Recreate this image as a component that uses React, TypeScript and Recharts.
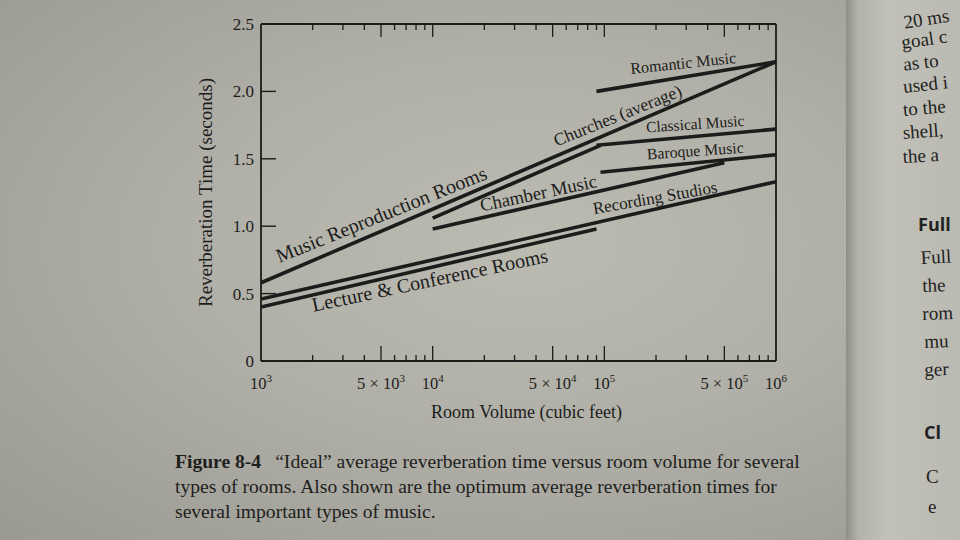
import React from 'react';
import { LineChart, Line, XAxis, YAxis, ReferenceDot, Label } from 'recharts';

// room types (volume in cubic feet, reverberation time in seconds)
const musicReproductionRooms = [{ volume: 1e3, time: 0.58 }, { volume: 1e6, time: 2.22 }];
const churchesAverage = [{ volume: 1e4, time: 1.06 }, { volume: 9.5e4, time: 1.6 }];
const recordingStudios = [{ volume: 1e3, time: 0.46 }, { volume: 1e6, time: 1.33 }];
const lectureRooms = [{ volume: 1e3, time: 0.4 }, { volume: 9e4, time: 0.98 }];

// types of music
const romanticMusic = [{ volume: 9e4, time: 2.0 }, { volume: 1e6, time: 2.22 }];
const classicalMusic = [{ volume: 9e4, time: 1.6 }, { volume: 1e6, time: 1.72 }];
const baroqueMusic = [{ volume: 9.5e4, time: 1.4 }, { volume: 1e6, time: 1.53 }];
const chamberMusic = [{ volume: 1e4, time: 0.98 }, { volume: 5e5, time: 1.47 }];

const series = [
  { name: 'Music Reproduction Rooms', data: musicReproductionRooms },
  { name: 'Churches (average)', data: churchesAverage },
  { name: 'Recording Studios', data: recordingStudios },
  { name: 'Lecture & Conference Rooms', data: lectureRooms },
  { name: 'Romantic Music', data: romanticMusic },
  { name: 'Classical Music', data: classicalMusic },
  { name: 'Baroque Music', data: baroqueMusic },
  { name: 'Chamber Music', data: chamberMusic },
];

// where each curve's name is written, and its slant
const lineLabels = [
  { text: 'Music Reproduction Rooms', volume: 5.2e3, time: 1.04, angle: -22, size: 20 },
  { text: 'Churches (average)', volume: 1.23e5, time: 1.78, angle: -22, size: 17.5 },
  { text: 'Romantic Music', volume: 2.9e5, time: 2.17, angle: -6, size: 16 },
  { text: 'Classical Music', volume: 3.4e5, time: 1.72, angle: -4, size: 15.5 },
  { text: 'Baroque Music', volume: 3.4e5, time: 1.52, angle: -4, size: 15.8 },
  { text: 'Chamber Music', volume: 4.2e4, time: 1.2, angle: -12, size: 18.5 },
  { text: 'Recording Studios', volume: 2.0e5, time: 1.17, angle: -10, size: 17 },
  { text: 'Lecture & Conference Rooms', volume: 9.8e3, time: 0.55, angle: -12, size: 20 },
];

const xTicks = [
  1e3, 2e3, 3e3, 4e3, 5e3, 6e3, 7e3, 8e3, 9e3,
  1e4, 2e4, 3e4, 4e4, 5e4, 6e4, 7e4, 8e4, 9e4,
  1e5, 2e5, 3e5, 4e5, 5e5, 6e5, 7e5, 8e5, 9e5, 1e6,
];
const xMajor = [1e3, 5e3, 1e4, 5e4, 1e5, 5e5, 1e6];
const xMajorLabels = [
  { base: '10', exp: '3' },
  { base: '5 × 10', exp: '3' },
  { base: '10', exp: '4' },
  { base: '5 × 10', exp: '4' },
  { base: '10', exp: '5' },
  { base: '5 × 10', exp: '5' },
  { base: '10', exp: '6' },
];

const yTicks = [0, 0.5, 1.0, 1.5, 2.0, 2.5];
const yTickLabels = ['0', '0.5', '1.0', '1.5', '2.0', '2.5'];
const rightTicks = [0.5, 1.0, 1.5, 2.0];

const ink = '#1c1c1a';
const serif = '"Liberation Serif", "DejaVu Serif", serif';

const BottomTick = (props: any) => {
  const { x, y, payload } = props;
  const i = xMajor.indexOf(payload.value);
  const edge = payload.value === 1e3 || payload.value === 1e6;
  const lbl = i >= 0 ? xMajorLabels[i] : null;
  return (
    <g>
      {!edge && (
        <line x1={x} x2={x} y1={y} y2={y - (i >= 0 ? 15 : 6)} stroke={ink} strokeWidth={1.3} />
      )}
      {lbl && (
        <text x={x} y={y + 28} textAnchor="middle" fontFamily={serif} fontSize={16.5} fill={ink}>
          {lbl.base}
          <tspan dy={-7} fontSize={11}>{lbl.exp}</tspan>
        </text>
      )}
    </g>
  );
};

const TopTick = (props: any) => {
  const { x, y, payload } = props;
  const major = xMajor.indexOf(payload.value) >= 0;
  if (payload.value === 1e3 || payload.value === 1e6) return <g />;
  return <line x1={x} x2={x} y1={y} y2={y + (major ? 13 : 6)} stroke={ink} strokeWidth={1.3} />;
};

const LeftTick = (props: any) => {
  const { x, y, payload } = props;
  const i = yTicks.indexOf(payload.value);
  const inner = payload.value > 0 && payload.value < 2.5;
  return (
    <g>
      {inner && <line x1={x} x2={x + 15} y1={y} y2={y} stroke={ink} strokeWidth={1.4} />}
      <text x={x - 7} y={y} dy="0.35em" textAnchor="end" fontFamily={serif} fontSize={17} fill={ink}>
        {yTickLabels[i]}
      </text>
    </g>
  );
};

const RightTick = (props: any) => {
  const { x, y } = props;
  return <line x1={x} x2={x - 8} y1={y} y2={y} stroke={ink} strokeWidth={1.3} />;
};

const nextPage = [
  { t: '20 ms', x: 902, y: 12, r: -9 },
  { t: 'goal c', x: 900, y: 32, r: -8 },
  { t: 'as to', x: 902, y: 54, r: -7 },
  { t: 'used i', x: 902, y: 76, r: -6 },
  { t: 'to the', x: 902, y: 99, r: -5 },
  { t: 'shell,', x: 902, y: 122, r: -4 },
  { t: 'the a', x: 902, y: 146, r: -3 },
  { t: 'Full', x: 920, y: 247, r: -3 },
  { t: 'the', x: 922, y: 275, r: -2 },
  { t: 'rom', x: 922, y: 303, r: -2 },
  { t: 'mu', x: 924, y: 331, r: -2 },
  { t: 'ger', x: 924, y: 359, r: -2 },
  { t: 'C', x: 926, y: 466, r: 0 },
  { t: 'e', x: 928, y: 496, r: 0 },
];

export default function App() {
  return (
    <div
      style={{
        position: 'absolute',
        left: 0,
        top: 0,
        width: 960,
        height: 540,
        overflow: 'hidden',
        background:
          'radial-gradient(ellipse at 55% 45%, #bcbbb2 0%, #b1b0a8 45%, #9a9992 100%)',
      }}
    >
      <LineChart width={960} height={540} margin={{ top: 20, right: 180, bottom: 149, left: 201 }}>
        <XAxis
          xAxisId="bottom"
          dataKey="volume"
          type="number"
          scale="log"
          domain={[1e3, 1e6]}
          allowDataOverflow
          ticks={xTicks}
          interval={0}
          tick={<BottomTick />}
          tickLine={false}
          tickSize={0}
          tickMargin={0}
          height={30}
          axisLine={{ stroke: ink, strokeWidth: 1.8 }}
        >
          <Label
            content={(p: any) => (
              <text
                x={p.viewBox.x + p.viewBox.width / 2 + 8}
                y={p.viewBox.y + 57}
                textAnchor="middle"
                fontFamily={serif}
                fontSize={18}
                fill={ink}
              >
                Room Volume (cubic feet)
              </text>
            )}
          />
        </XAxis>
        <XAxis
          xAxisId="top"
          orientation="top"
          dataKey="volume"
          type="number"
          scale="log"
          domain={[1e3, 1e6]}
          allowDataOverflow
          ticks={xTicks}
          interval={0}
          tick={<TopTick />}
          tickLine={false}
          tickSize={0}
          tickMargin={0}
          height={4}
          axisLine={{ stroke: ink, strokeWidth: 1.8 }}
        />
        <YAxis
          yAxisId="left"
          type="number"
          domain={[0, 2.5]}
          ticks={yTicks}
          interval={0}
          tick={<LeftTick />}
          tickLine={false}
          tickSize={0}
          tickMargin={0}
          width={60}
          axisLine={{ stroke: ink, strokeWidth: 1.8 }}
        >
          <Label
            content={(p: any) => {
              const cx = p.viewBox.x + 11;
              const cy = p.viewBox.y + p.viewBox.height / 2;
              return (
                <text
                  x={cx}
                  y={cy}
                  transform={`rotate(-90 ${cx} ${cy})`}
                  textAnchor="middle"
                  fontFamily={serif}
                  fontSize={19}
                  fill={ink}
                >
                  Reverberation Time (seconds)
                </text>
              );
            }}
          />
        </YAxis>
        <YAxis
          yAxisId="right"
          orientation="right"
          type="number"
          domain={[0, 2.5]}
          ticks={rightTicks}
          interval={0}
          tick={<RightTick />}
          tickLine={false}
          tickSize={0}
          tickMargin={0}
          width={4}
          axisLine={{ stroke: ink, strokeWidth: 1.8 }}
        />
        {series.map((s) => (
          <Line
            key={s.name}
            name={s.name}
            data={s.data}
            dataKey="time"
            xAxisId="bottom"
            yAxisId="left"
            type="linear"
            stroke={ink}
            strokeWidth={3.6}
            dot={false}
            activeDot={false}
            isAnimationActive={false}
          />
        ))}
        {lineLabels.map((l) => (
          <ReferenceDot
            key={l.text}
            xAxisId="bottom"
            yAxisId="left"
            x={l.volume}
            y={l.time}
            r={0}
            ifOverflow="visible"
            shape={(p: any) => (
              <text
                x={p.cx}
                y={p.cy}
                transform={`rotate(${l.angle} ${p.cx} ${p.cy})`}
                textAnchor="middle"
                fontFamily={serif}
                fontSize={l.size}
                fill={ink}
              >
                {l.text}
              </text>
            )}
          />
        ))}
      </LineChart>

      <div
        style={{
          position: 'absolute',
          left: 175,
          top: 449,
          width: 660,
          fontFamily: serif,
          fontSize: 19.6,
          lineHeight: '25px',
          color: '#1e1e1c',
          whiteSpace: 'nowrap',
        }}
      >
        <div>
          <b>Figure 8-4</b>
          <span style={{ marginLeft: 14 }}>“Ideal” average reverberation time versus room volume for several</span>
        </div>
        <div>types of rooms. Also shown are the optimum average reverberation times for</div>
        <div>several important types of music.</div>
      </div>

      <div
        style={{
          position: 'absolute',
          left: 846,
          top: 0,
          width: 114,
          height: 540,
          background: 'linear-gradient(90deg, #8f8e88 0px, #b3b2aa 12px, #c2c1b9 40px, #bbbab2 100%)',
        }}
      >
        {nextPage.map((n) => (
          <div
            key={n.t + n.y}
            style={{
              position: 'absolute',
              left: n.x - 846,
              top: n.y,
              transform: `rotate(${n.r}deg)`,
              transformOrigin: 'left top',
              fontFamily: serif,
              fontSize: 19,
              color: '#222220',
              whiteSpace: 'nowrap',
            }}
          >
            {n.t}
          </div>
        ))}
        <div style={{ position: 'absolute', left: 72, top: 212, fontFamily: '"Open Sans", sans-serif', fontWeight: 700, fontSize: 18, color: '#222' }}>
          Full
        </div>
        <div style={{ position: 'absolute', left: 78, top: 420, fontFamily: '"Open Sans", sans-serif', fontWeight: 700, fontSize: 18, color: '#222' }}>
          Cl
        </div>
      </div>
    </div>
  );
}
